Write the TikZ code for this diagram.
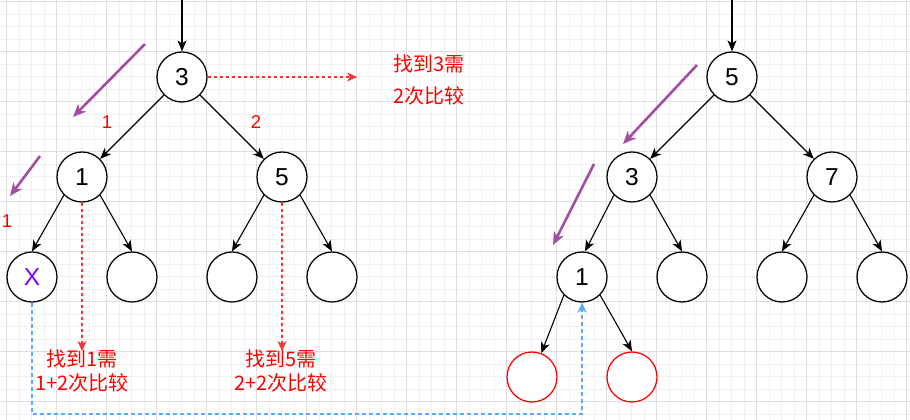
\documentclass[tikz,border=0pt]{standalone}
\usepackage{fontspec}
\setmainfont{Liberation Sans}
\newfontfamily\cjk{Noto Sans CJK SC}
\usetikzlibrary{arrows.meta}
\definecolor{gridminor}{RGB}{240,240,240}
\definecolor{gridmajor}{RGB}{222,222,222}
\definecolor{purparrow}{RGB}{162,78,164}
\definecolor{xviolet}{RGB}{127,0,255}
\definecolor{bluedash}{RGB}{90,170,255}
\definecolor{reddash}{RGB}{255,50,50}
\tikzset{
  circ/.style={circle,draw=black,line width=1.25pt,minimum size=50pt,inner sep=0pt,font=\fontsize{24.5}{28}\selectfont,fill=white},
  redcirc/.style={circ,draw=red},
  arr/.style={line width=1.1pt,-{Stealth[length=11pt,width=9pt,inset=3pt]}},
  purp/.style={line width=2.6pt,draw=purparrow,-{Stealth[length=13pt,width=11pt,inset=4pt]}},
  rdash/.style={line width=1.4pt,draw=reddash,dash pattern=on 3pt off 3pt,-{Stealth[length=10pt,width=9pt,inset=3pt]}},
  bdash/.style={line width=1.8pt,draw=bluedash,dash pattern=on 4pt off 3pt,-{Stealth[length=10pt,width=9pt,inset=3pt]}},
  redtxt/.style={text=red,font=\cjk\fontsize{20}{23.5}\selectfont,align=center,inner sep=0pt},
  redtxtwide/.style={text=red,font=\cjk\fontsize{20}{32}\selectfont,align=center,inner sep=0pt},
  lbl/.style={text=red,font=\fontsize{18.5}{21}\selectfont,inner sep=0pt}
}
\begin{document}
\begin{tikzpicture}[x=1pt,y=-1pt]
\useasboundingbox (0,0) rectangle (910,420);
\fill[white] (0,0) rectangle (910,420);
% grid
\foreach \k in {0,...,72} {\draw[gridminor,line width=0.8pt] ({6.7+12.5*\k},0) -- ({6.7+12.5*\k},420);}
\foreach \k in {0,...,33} {\draw[gridminor,line width=0.8pt] (0,{1.7+12.5*\k}) -- (910,{1.7+12.5*\k});}
\foreach \k in {0,...,18} {\draw[gridmajor,line width=0.9pt] ({6.7+50*\k},0) -- ({6.7+50*\k},420);}
\foreach \k in {0,...,8} {\draw[gridmajor,line width=0.9pt] (0,{1.7+50*\k}) -- (910,{1.7+50*\k});}

% left tree
\node[circ] (a3) at (182,77) {3};
\node[circ] (a1) at (82,177) {1};
\node[circ] (a5) at (282,177) {5};
\node[circ,text=xviolet] (ax) at (32,277) {X};
\node[circ] (ab) at (132,277) {};
\node[circ] (ac) at (232,277) {};
\node[circ] (ad) at (332,277) {};
\coordinate (atop) at (182,0);
\draw[arr] (atop) -- (a3);
\draw[arr] (a3) -- (a1);
\draw[arr] (a3) -- (a5);
\draw[arr] (a1.south west) -- (ax.north);
\draw[arr] (a1.south east) -- (ab.north);
\draw[arr] (a5.south west) -- (ac.north);
\draw[arr] (a5.south east) -- (ad.north);

% right tree
\node[circ] (b5) at (732,77) {5};
\node[circ] (b3) at (632,177) {3};
\node[circ] (b7) at (832,177) {7};
\node[circ] (b1) at (582,277) {1};
\node[circ] (bb) at (682,277) {};
\node[circ] (bc) at (782,277) {};
\node[circ] (bd) at (882,277) {};
\node[redcirc] (br1) at (532,377) {};
\node[redcirc] (br2) at (632,377) {};
\coordinate (btop) at (732,0);
\draw[arr] (btop) -- (b5);
\draw[arr] (b5) -- (b3);
\draw[arr] (b5) -- (b7);
\draw[arr] (b3.south west) -- ([xshift=3pt]b1.north);
\draw[arr] (b3.south east) -- (bb.north);
\draw[arr] (b7.south west) -- (bc.north);
\draw[arr] (b7.south east) -- (bd.north);
\draw[arr] (b1.south west) -- (br1);
\draw[arr] (b1.south east) -- (br2.north);

% red annotations
\coordinate (e3) at (357,77);
\draw[rdash] (a3.east) -- (e3);
\node[redtxtwide] (t3) at (429,80) {找到3需\\2次比较};
\coordinate (e1) at (82,351);
\draw[rdash] (a1.south) -- (e1);
\node[redtxt] (t1) at (82,371) {找到1需\\1+2次比较};
\coordinate (e5) at (282,351);
\draw[rdash] (a5.south) -- (e5);
\node[redtxt] (t5) at (281,371) {找到5需\\2+2次比较};
\node[lbl] (l1) at (107,122) {1};
\node[lbl] (l2) at (256,122) {2};
\node[lbl] (l3) at (7,221) {1};

% purple arrows
\coordinate (p1s) at (145,44);
\coordinate (p1e) at (73,117);
\draw[purp] (p1s) -- (p1e);
\coordinate (p2s) at (40,156);
\coordinate (p2e) at (10,196);
\draw[purp] (p2s) -- (p2e);
\coordinate (p3s) at (697,65);
\coordinate (p3e) at (623,144);
\draw[purp] (p3s) -- (p3e);
\coordinate (p4s) at (594,164);
\coordinate (p4e) at (553,245);
\draw[purp] (p4s) -- (p4e);

% blue dashed path
\coordinate (bl) at (300,414);
\draw[bdash] (ax.south) |- (bl) -| (b1.south);
\end{tikzpicture}
\end{document}
